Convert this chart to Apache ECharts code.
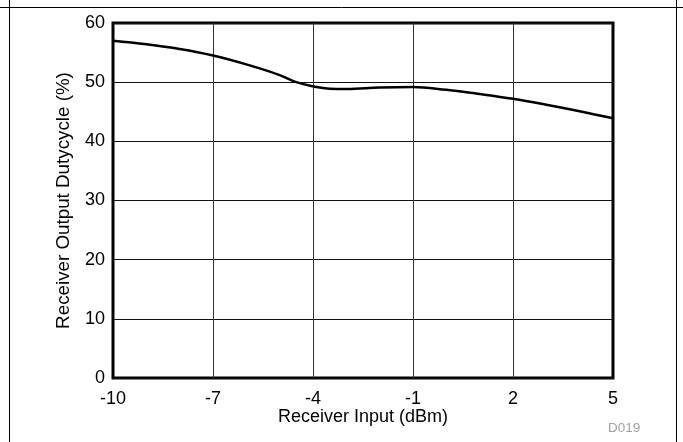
<!DOCTYPE html>
<html><head><meta charset="utf-8">
<script src="https://cdn.jsdelivr.net/npm/echarts@6/dist/echarts.min.js"></script>
<style>html,body{margin:0;padding:0;background:#fff}#c{width:683px;height:442px}</style>
</head><body><div id="c"></div>
<script>
const xValues = [-10, -9, -8, -7, -6, -5, -4.5, -4, -3.5, -3, -2, -1, 0, 1, 2, 3, 4, 5];
const dutyCycle = [57.0, 56.4, 55.6, 54.5, 53.0, 51.2, 50.0, 49.3, 48.9, 48.85, 49.1, 49.2, 48.7, 48.0, 47.2, 46.2, 45.1, 43.9];
const xTicks = [-10, -7, -4, -1, 2, 5];
const yTicks = [0, 10, 20, 30, 40, 50, 60];

const chart = echarts.init(document.getElementById('c'), null, {renderer: 'canvas'});
const font = 'Liberation Sans, Arial, sans-serif';
chart.setOption({
  animation: false,
  backgroundColor: '#fff',
  grid: {left: 113, right: 70, top: 23, bottom: 64, show: true, borderColor: '#000', borderWidth: 3, backgroundColor: 'transparent'},
  xAxis: {
    type: 'value', min: xTicks[0], max: xTicks[xTicks.length - 1], interval: 3,
    name: 'Receiver Input (dBm)', nameLocation: 'middle', nameGap: 30, nameMoveOverlap: false,
    nameTextStyle: {fontFamily: font, fontSize: 18, color: '#000'},
    axisLine: {show: false}, axisTick: {show: false},
    axisLabel: {customValues: xTicks, fontFamily: font, fontSize: 18, color: '#000', margin: 12},
    splitLine: {show: false}
  },
  yAxis: {
    type: 'value', min: yTicks[0], max: yTicks[yTicks.length - 1], interval: 10,
    name: 'Receiver Output Dutycycle (%)', nameLocation: 'middle', nameGap: 40, nameMoveOverlap: false,
    nameTextStyle: {fontFamily: font, fontSize: 18.8, color: '#000'},
    axisLine: {show: false}, axisTick: {show: false},
    axisLabel: {fontFamily: font, fontSize: 18, color: '#000', margin: 8},
    splitLine: {show: true, lineStyle: {color: '#111', width: 1}}
  },
  graphic: [
    {type: 'line', shape: {x1: 0, y1: 7.5, x2: 683, y2: 7.5}, style: {stroke: '#000', lineWidth: 1}, z: 100},
    {type: 'line', shape: {x1: 9.5, y1: 0, x2: 9.5, y2: 442}, style: {stroke: '#000', lineWidth: 1}, z: 100},
    {type: 'line', shape: {x1: 676.5, y1: 0, x2: 676.5, y2: 442}, style: {stroke: '#000', lineWidth: 1}, z: 100},
    {type: 'text', left: 608, top: 421, style: {text: 'D019', fontFamily: font, fontSize: 13.5, fill: '#a0a0a0'}, z: 100}
  ],
  series: [
    {
      type: 'line', data: xValues.map((x, i) => [x, dutyCycle[i]]),
      smooth: 0.4, showSymbol: false, symbol: 'none',
      lineStyle: {color: '#000', width: 2.5}, z: 5,
      markLine: {
        silent: true, symbol: 'none', label: {show: false},
        lineStyle: {color: '#333', width: 1, type: 'solid'},
        data: xTicks.slice(1, -1).map(v => ({xAxis: v}))
      }
    }
  ]
});
</script></body></html>
